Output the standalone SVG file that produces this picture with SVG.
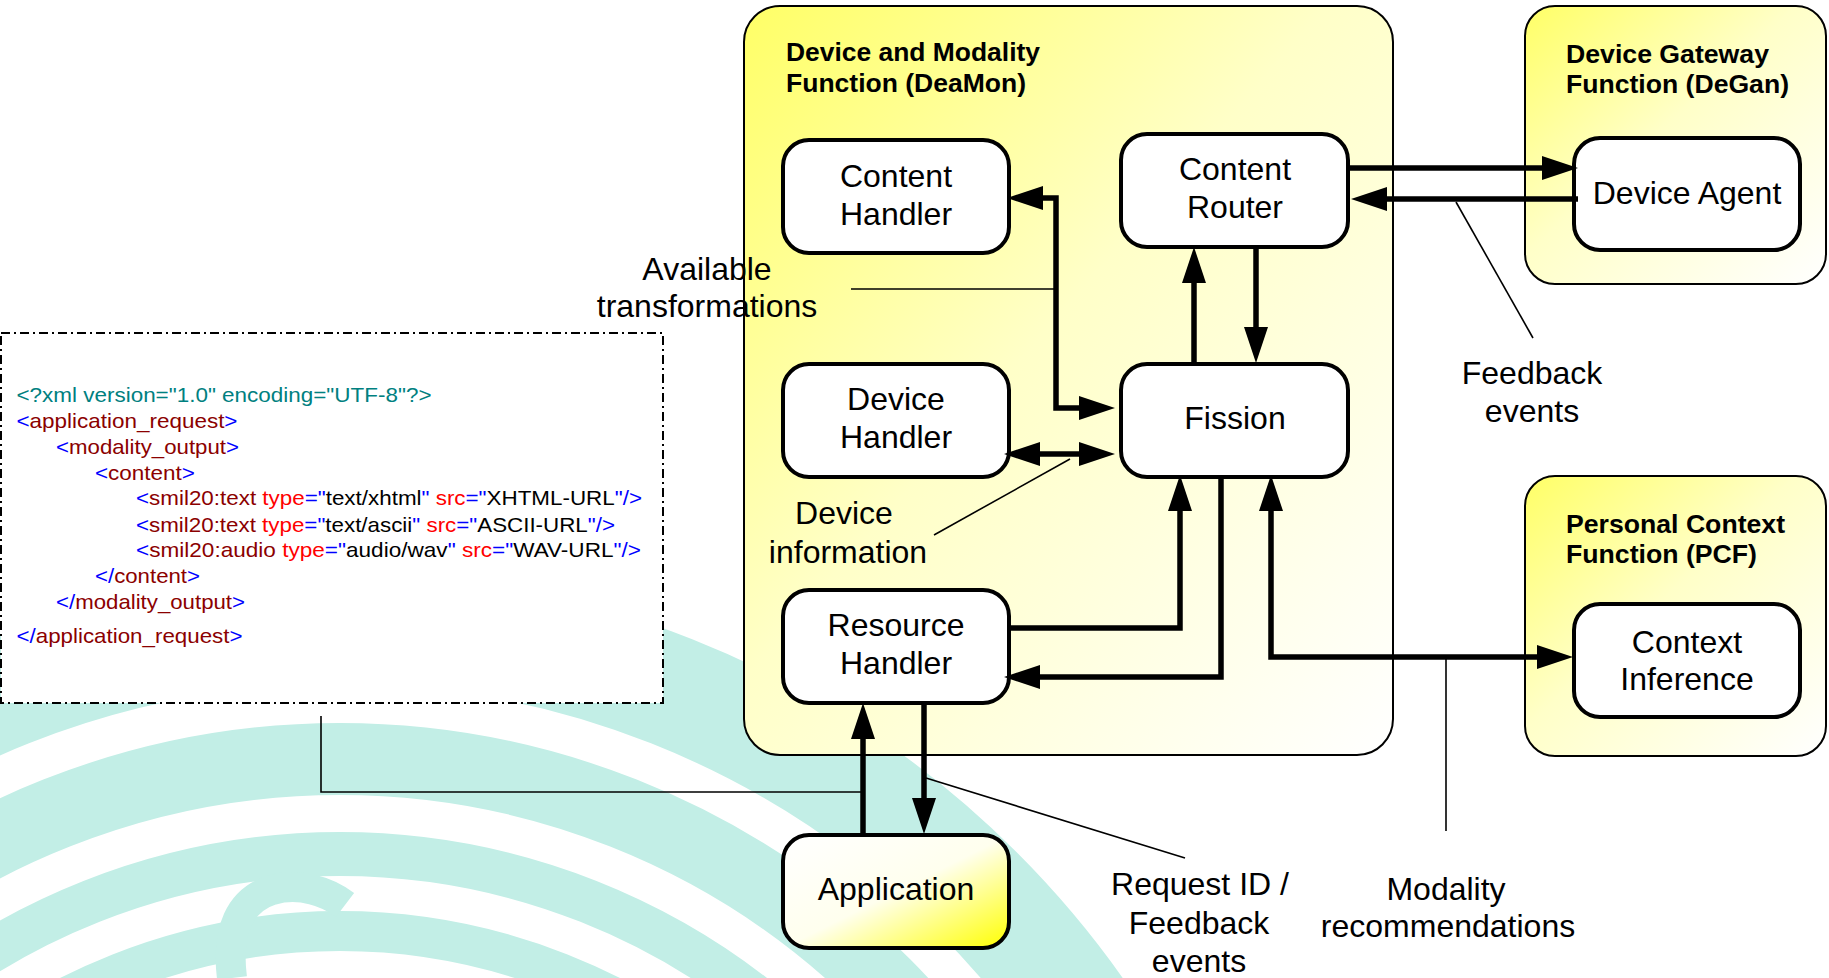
<svg xmlns="http://www.w3.org/2000/svg" width="1829" height="978" viewBox="0 0 1829 978">
<defs>
<linearGradient id="gCont" x1="0" y1="0" x2="1" y2="1">
<stop offset="0" stop-color="#FFFF66"/>
<stop offset="0.45" stop-color="#FFFFC8"/>
<stop offset="1" stop-color="#FFFFFF"/>
</linearGradient>
<linearGradient id="gApp" x1="0" y1="0" x2="1" y2="1">
<stop offset="0" stop-color="#FFFFFF"/>
<stop offset="0.5" stop-color="#FFFFEE"/>
<stop offset="1" stop-color="#FFFF00"/>
</linearGradient>
<marker id="ah" markerUnits="userSpaceOnUse" markerWidth="38" markerHeight="26" refX="26" refY="12" orient="auto-start-reverse" viewBox="0 0 38 26">
<path d="M0,0 L36,12 L0,24 Z" fill="#000"/>
</marker>
<style>
.cont{stroke:#000;stroke-width:2;fill:url(#gCont)}
.node{stroke:#000;stroke-width:4;fill:#fff}
.lbl{font-family:"Liberation Sans",Arial,sans-serif;font-size:32px;fill:#000;text-anchor:middle}
.ttl{font-family:"Liberation Sans",Arial,sans-serif;font-size:26px;font-weight:bold;fill:#000}
.con{fill:none;stroke:#000;stroke-width:5.5;marker-end:url(#ah)}
.both{marker-start:url(#ah)}
.lead{fill:none;stroke:#000;stroke-width:1.6}
.xml{font-family:"Liberation Sans",Arial,sans-serif;font-size:21px}
.b{fill:#0000FF}.r{fill:#8B0000}.a{fill:#FF0000}.k{fill:#000}.t{fill:#008080}
</style>
</defs>
<rect width="1829" height="978" fill="#fff"/>
<g id="background" fill="none" stroke="#C2EEE6">
<circle cx="340" cy="1529" r="901" stroke-width="112"/>
<circle cx="340" cy="1529" r="770" stroke-width="72"/>
<circle cx="340" cy="1529" r="675" stroke-width="44"/>
<circle cx="340" cy="1529" r="598" stroke-width="40"/>
<path d="M232,978 C226,930 240,900 272,890 C300,882 328,892 345,905" stroke-width="30"/>
</g>
<g id="xmlbox">
<rect x="1" y="333" width="662" height="370" fill="#fff" stroke="#000" stroke-width="2" stroke-dasharray="9 4 2 4"/>
<text class="xml t" x="16.5" y="402" textLength="415" lengthAdjust="spacingAndGlyphs">&lt;?xml version="1.0" encoding="UTF-8"?&gt;</text>
<text class="xml" x="16.5" y="428" textLength="221" lengthAdjust="spacingAndGlyphs"><tspan class="b">&lt;</tspan><tspan class="r">application_request</tspan><tspan class="b">&gt;</tspan></text>
<text class="xml" x="56" y="454" textLength="183" lengthAdjust="spacingAndGlyphs"><tspan class="b">&lt;</tspan><tspan class="r">modality_output</tspan><tspan class="b">&gt;</tspan></text>
<text class="xml" x="95" y="480" textLength="100" lengthAdjust="spacingAndGlyphs"><tspan class="b">&lt;</tspan><tspan class="r">content</tspan><tspan class="b">&gt;</tspan></text>
<text class="xml" x="136" y="505" textLength="506" lengthAdjust="spacingAndGlyphs"><tspan class="b">&lt;</tspan><tspan class="r">smil20:text </tspan><tspan class="a">type</tspan><tspan class="b">="</tspan><tspan class="k">text/xhtml</tspan><tspan class="b">" </tspan><tspan class="a">src</tspan><tspan class="b">="</tspan><tspan class="k">XHTML-URL</tspan><tspan class="b">"/&gt;</tspan></text>
<text class="xml" x="136" y="532" textLength="479" lengthAdjust="spacingAndGlyphs"><tspan class="b">&lt;</tspan><tspan class="r">smil20:text </tspan><tspan class="a">type</tspan><tspan class="b">="</tspan><tspan class="k">text/ascii</tspan><tspan class="b">" </tspan><tspan class="a">src</tspan><tspan class="b">="</tspan><tspan class="k">ASCII-URL</tspan><tspan class="b">"/&gt;</tspan></text>
<text class="xml" x="136" y="557" textLength="505" lengthAdjust="spacingAndGlyphs"><tspan class="b">&lt;</tspan><tspan class="r">smil20:audio </tspan><tspan class="a">type</tspan><tspan class="b">="</tspan><tspan class="k">audio/wav</tspan><tspan class="b">" </tspan><tspan class="a">src</tspan><tspan class="b">="</tspan><tspan class="k">WAV-URL</tspan><tspan class="b">"/&gt;</tspan></text>
<text class="xml" x="95" y="583" textLength="105" lengthAdjust="spacingAndGlyphs"><tspan class="b">&lt;/</tspan><tspan class="r">content</tspan><tspan class="b">&gt;</tspan></text>
<text class="xml" x="56" y="609" textLength="189" lengthAdjust="spacingAndGlyphs"><tspan class="b">&lt;/</tspan><tspan class="r">modality_output</tspan><tspan class="b">&gt;</tspan></text>
<text class="xml" x="16.5" y="643" textLength="226" lengthAdjust="spacingAndGlyphs"><tspan class="b">&lt;/</tspan><tspan class="r">application_request</tspan><tspan class="b">&gt;</tspan></text>
</g>
<g id="deamon">
<rect class="cont" x="744" y="6" width="649" height="749" rx="36"/>
<text class="ttl" x="786" y="61" textLength="254" lengthAdjust="spacingAndGlyphs">Device and Modality</text>
<text class="ttl" x="786" y="92" textLength="240" lengthAdjust="spacingAndGlyphs">Function (DeaMon)</text>
</g>
<g id="degan">
<rect class="cont" x="1525" y="6" width="301" height="278" rx="30"/>
<text class="ttl" x="1566" y="63" textLength="203" lengthAdjust="spacingAndGlyphs">Device Gateway</text>
<text class="ttl" x="1566" y="93" textLength="223" lengthAdjust="spacingAndGlyphs">Function (DeGan)</text>
</g>
<g id="pcf">
<rect class="cont" x="1525" y="476" width="301" height="280" rx="30"/>
<text class="ttl" x="1566" y="533" textLength="219" lengthAdjust="spacingAndGlyphs">Personal Context</text>
<text class="ttl" x="1566" y="563" textLength="191" lengthAdjust="spacingAndGlyphs">Function (PCF)</text>
</g>
<g id="content-handler">
<rect class="node" x="783" y="140" width="226" height="113" rx="26"/>
<text class="lbl" x="896" y="187">Content</text>
<text class="lbl" x="896" y="225">Handler</text>
</g>
<g id="content-router">
<rect class="node" x="1121" y="134" width="227" height="113" rx="26"/>
<text class="lbl" x="1235" y="180">Content</text>
<text class="lbl" x="1235" y="218">Router</text>
</g>
<g id="device-handler">
<rect class="node" x="783" y="364" width="226" height="113" rx="26"/>
<text class="lbl" x="896" y="410">Device</text>
<text class="lbl" x="896" y="448">Handler</text>
</g>
<g id="fission">
<rect class="node" x="1121" y="364" width="227" height="113" rx="26"/>
<text class="lbl" x="1235" y="429">Fission</text>
</g>
<g id="resource-handler">
<rect class="node" x="783" y="590" width="226" height="113" rx="26"/>
<text class="lbl" x="896" y="636">Resource</text>
<text class="lbl" x="896" y="674">Handler</text>
</g>
<g id="device-agent">
<rect class="node" x="1574" y="138" width="226" height="112" rx="26"/>
<text class="lbl" x="1687" y="204">Device Agent</text>
</g>
<g id="context-inference">
<rect class="node" x="1574" y="604" width="226" height="113" rx="26"/>
<text class="lbl" x="1687" y="653">Context</text>
<text class="lbl" x="1687" y="690">Inference</text>
</g>
<g id="application">
<rect x="783" y="835" width="226" height="113" rx="26" fill="url(#gApp)" stroke="#000" stroke-width="4"/>
<text class="lbl" x="896" y="900">Application</text>
</g>
<g id="connectors">
<path class="con" d="M1349,168 H1568"/>
<path class="con" d="M1578,199 H1361"/>
<path class="con" d="M1256,247 V353"/>
<path class="con" d="M1194,363 V257"/>
<path class="con both" d="M1017,198 H1056 V408 H1105"/>
<path class="con both" d="M1014,454 H1105"/>
<path class="con" d="M1007,628 H1180 V485"/>
<path class="con" d="M1221,477 V677 H1014"/>
<path class="con both" d="M1271,485 V657 H1563"/>
<path class="con" d="M863,835 V713"/>
<path class="con" d="M924,703 V824"/>
<path class="lead" d="M851,289 H1056"/>
<path class="lead" d="M1070,459 L934,535"/>
<path class="lead" d="M1456,202 L1533,338"/>
<path class="lead" d="M1446,657 V831"/>
<path class="lead" d="M926,778 L1185,858"/>
<path class="lead" d="M321,716 V792 H861"/>
</g>
<g id="labels">
<text class="lbl" x="707" y="280">Available</text>
<text class="lbl" x="707" y="317">transformations</text>
<text class="lbl" x="844" y="524">Device</text>
<text class="lbl" x="848" y="563">information</text>
<text class="lbl" x="1532" y="384">Feedback</text>
<text class="lbl" x="1532" y="422">events</text>
<text class="lbl" x="1200" y="895">Request ID /</text>
<text class="lbl" x="1199" y="934">Feedback</text>
<text class="lbl" x="1199" y="972">events</text>
<text class="lbl" x="1446" y="900">Modality</text>
<text class="lbl" x="1448" y="937">recommendations</text>
</g>
</svg>
